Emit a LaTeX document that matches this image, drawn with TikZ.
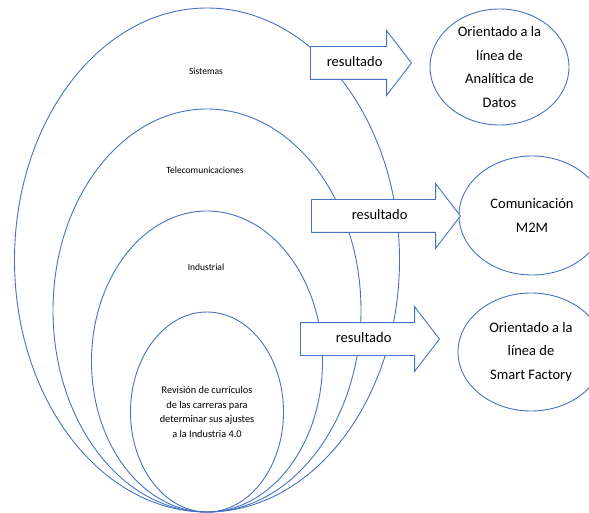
\documentclass[tikz,border=0pt]{standalone}
\usepackage{fontspec}
\setmainfont{Carlito}
\usepackage{tikz}
\usetikzlibrary{shapes.geometric,shapes.arrows}
\definecolor{azul}{HTML}{4472C4}

\begin{document}
\begin{tikzpicture}[x=1pt,y=-1pt,
  anillo/.style={draw=azul, line width=0.9pt, ellipse, inner sep=0pt},
  meta/.style={anillo, align=center, font=\fontsize{14.5}{23.5}\selectfont},
  chico/.style={align=center, font=\fontsize{9.5}{14.5}\selectfont},
  flecha/.style={draw=azul, fill=white, line width=0.9pt, single arrow,
    single arrow tip angle=105, single arrow head extend=16pt, anchor=tail,
    font=\fontsize{14.5}{17}\selectfont, text height=10pt, text depth=3.5pt,
    inner ysep=9.25pt}]
  \useasboundingbox (0,0) rectangle (589,513);
  \clip (0,0) rectangle (589,513);
  % circulos concentricos
  \node[anillo, minimum width=385pt, minimum height=504pt] (sis) at (207,260) {};
  \node[anillo, minimum width=308pt, minimum height=403pt] (tel) at (207,310.5) {};
  \node[anillo, minimum width=231pt, minimum height=301pt] (ind) at (207,361.5) {};
  \node[anillo, chico, font=\fontsize{10.3}{14.5}\selectfont,
    minimum width=153pt, minimum height=200pt] (rev) at (207,412)
    {Revisión de currículos\\de las carreras para\\determinar sus ajustes\\a la Industria 4.0};
  \node[chico] (tsis) at (206,71) {Sistemas};
  \node[chico] (ttel) at (205,170) {Telecomunicaciones};
  \node[chico] (tind) at (206,267) {Industrial};
  % resultados
  \node[meta, minimum width=139pt, minimum height=116pt] (analitica) at (499.5,67)
    {Orientado a la\\línea de\\Analítica de\\Datos};
  \node[meta, minimum width=146pt, minimum height=119pt] (m2m) at (532,215.5)
    {Comunicación\\M2M};
  \node[meta, minimum width=146pt, minimum height=118pt] (smart) at (531,352)
    {Orientado a la\\línea de\\Smart Factory};
  % flechas
  \node[flecha, minimum height=101pt, inner xsep=9pt] (f1) at (310,63) {resultado};
  \node[flecha, minimum height=149pt] (f2) at (311,216) {resultado};
  \node[flecha, minimum height=139pt] (f3) at (300,339) {resultado};
\end{tikzpicture}
\end{document}
